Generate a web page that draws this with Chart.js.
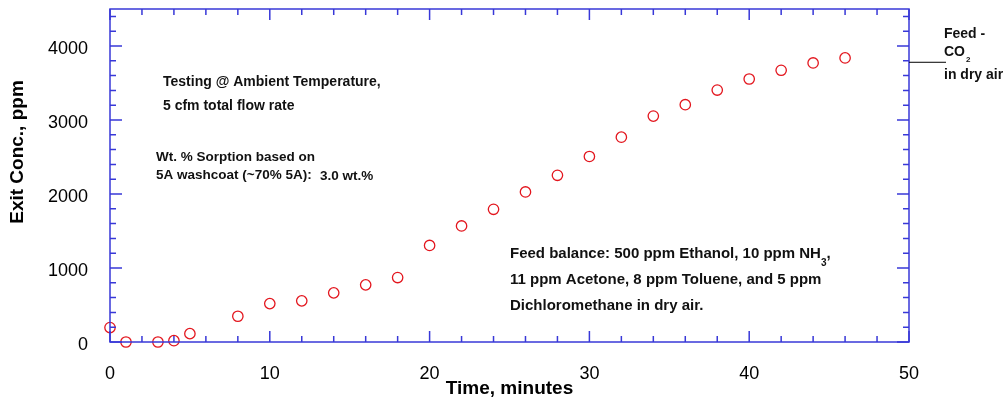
<!DOCTYPE html>
<html>
<head>
<meta charset="utf-8">
<script src="https://cdn.jsdelivr.net/npm/chart.js@4/dist/chart.umd.min.js"></script>
<style>
  html, body { margin: 0; padding: 0; background: #fff; }
  #wrap { width: 1007px; height: 400px; }
</style>
</head>
<body>
<div id="wrap"><canvas id="chart"></canvas></div>
<script>
// data
const timeMin = [0, 1, 3, 4, 5, 8, 10, 12, 14, 16, 18, 20, 22, 24, 26, 28, 30, 32, 34, 36, 38, 40, 42, 44, 46];
const exitConc = [195, 0, 0, 18, 113, 348, 519, 556, 664, 772, 871, 1305, 1568, 1793, 2028, 2253, 2507, 2768, 3053, 3207, 3405, 3554, 3672, 3771, 3839];
const xTicks = [0, 10, 20, 30, 40, 50];
const yTicks = [0, 1000, 2000, 3000, 4000];
const feedLevel = 3780;

const axisBlue = '#3838d8';
const fontFam = 'Arial, "Liberation Sans", sans-serif';

// frame with inward ticks on all four sides + text notes
const framePlugin = {
    id: 'frame',
    afterDraw(chart) {
        const {ctx, chartArea: a, scales: {x, y}} = chart;
        ctx.save();
        ctx.strokeStyle = axisBlue;
        ctx.lineWidth = 1.5;
        ctx.strokeRect(a.left, a.top, a.right - a.left, a.bottom - a.top);
        ctx.beginPath();
        for (let v = x.min; v <= x.max; v += 2) {
            let px = x.getPixelForValue(v);
            let len = v % 10 == 0 ? 11 : 6;
            ctx.moveTo(px, a.bottom); ctx.lineTo(px, a.bottom - len);
            ctx.moveTo(px, a.top); ctx.lineTo(px, a.top + len);
        }
        for (let v = y.min; v <= y.max; v += 200) {
            let py = y.getPixelForValue(v);
            let len = v % 1000 == 0 ? 12 : 6;
            ctx.moveTo(a.left, py); ctx.lineTo(a.left + len, py);
            ctx.moveTo(a.right, py); ctx.lineTo(a.right - len, py);
        }
        ctx.stroke();

        // feed level marker outside the plot
        let fy = y.getPixelForValue(feedLevel);
        ctx.strokeStyle = '#000';
        ctx.lineWidth = 1;
        ctx.beginPath();
        ctx.moveTo(a.right, fy); ctx.lineTo(a.right + 37, fy);
        ctx.stroke();

        // y axis title, placed a bit above centre like the original
        ctx.fillStyle = '#000';
        ctx.save();
        ctx.translate(18, 152);
        ctx.rotate(-Math.PI / 2);
        ctx.textAlign = 'center';
        ctx.textBaseline = 'middle';
        ctx.font = 'bold 19px ' + fontFam;
        ctx.fillText('Exit Conc., ppm', 0, 0);
        ctx.restore();

        ctx.fillStyle = '#111';
        ctx.textBaseline = 'middle';
        ctx.font = 'bold 14px ' + fontFam;
        ctx.fillText('Testing @ Ambient Temperature,', 163, 82);
        ctx.fillText('5 cfm total flow rate', 163, 106);
        ctx.font = 'bold 13.5px ' + fontFam;
        ctx.fillText('Wt. % Sorption based on', 156, 157);
        ctx.fillText('5A washcoat (~70% 5A):', 156, 175);
        ctx.fillText('3.0 wt.%', 320, 176);

        ctx.font = 'bold 15px ' + fontFam;
        let s = 'Feed balance: 500 ppm Ethanol, 10 ppm NH';
        ctx.fillText(s, 510, 254);
        let w = ctx.measureText(s).width;
        ctx.font = 'bold 10px ' + fontFam;
        ctx.fillText('3', 510 + w, 263);
        let w3 = ctx.measureText('3').width;
        ctx.font = 'bold 15px ' + fontFam;
        ctx.fillText(',', 510 + w + w3, 254);
        ctx.fillText('11 ppm Acetone, 8 ppm Toluene, and 5 ppm', 510, 280);
        ctx.fillText('Dichloromethane in dry air.', 510, 306);

        ctx.font = 'bold 14px ' + fontFam;
        ctx.fillText('Feed -', 944, 34);
        ctx.fillText('CO', 944, 52);
        let wc = ctx.measureText('CO').width;
        ctx.fillText('in dry air', 944, 75);
        ctx.font = 'bold 8px ' + fontFam;
        ctx.fillText('2', 944 + wc + 1, 60);
        ctx.restore();
    }
};

let ctx = document.getElementById('chart').getContext('2d');
window.plot = new Chart(ctx, {
    type: 'scatter',
    data: {
        datasets: [{
            label: 'Exit conc.',
            data: timeMin.map((t, i) => ({x: t, y: exitConc[i]})),
            pointStyle: 'circle',
            pointRadius: 5.2,
            pointHoverRadius: 5.2,
            borderWidth: 1.3,
            borderColor: '#e3161e',
            backgroundColor: 'rgba(0,0,0,0)',
            clip: false
        }]
    },
    options: {
        responsive: true,
        maintainAspectRatio: false,
        animation: false,
        events: [],
        layout: {padding: {top: 9, right: 98, left: 0, bottom: 0}},
        plugins: {legend: {display: false}, tooltip: {enabled: false}},
        scales: {
            x: {
                type: 'linear',
                min: 0,
                max: 50,
                afterFit(s) {
                    s.height = 58;
                    s.paddingLeft = 0; s.paddingRight = 0;
                },
                afterBuildTicks(s) { s.ticks = xTicks.map(v => ({value: v})); },
                grid: {display: false, drawTicks: false, tickLength: 0},
                border: {display: false},
                ticks: {
                    color: '#000',
                    padding: 23,
                    maxRotation: 0,
                    autoSkip: false,
                    callback: v => String(v),
                    font: {family: fontFam, size: 18, lineHeight: 1}
                },
                title: {
                    display: true,
                    text: 'Time, minutes',
                    color: '#000',
                    padding: {top: 0, bottom: 0},
                    font: {family: fontFam, size: 19, weight: 'bold', lineHeight: 1.2}
                }
            },
            y: {
                type: 'linear',
                min: 0,
                max: 4500,
                afterFit(s) {
                    s.width = 110;
                    s.paddingTop = 0; s.paddingBottom = 0;
                },
                afterBuildTicks(s) { s.ticks = yTicks.map(v => ({value: v})); },
                grid: {display: false, drawTicks: false, tickLength: 0},
                border: {display: false},
                ticks: {
                    color: '#000',
                    padding: 22,
                    labelOffset: 3,
                    callback: v => String(v),
                    font: {family: fontFam, size: 18, lineHeight: 1}
                }
            }
        }
    },
    plugins: [framePlugin]
});
</script>
</body>
</html>
